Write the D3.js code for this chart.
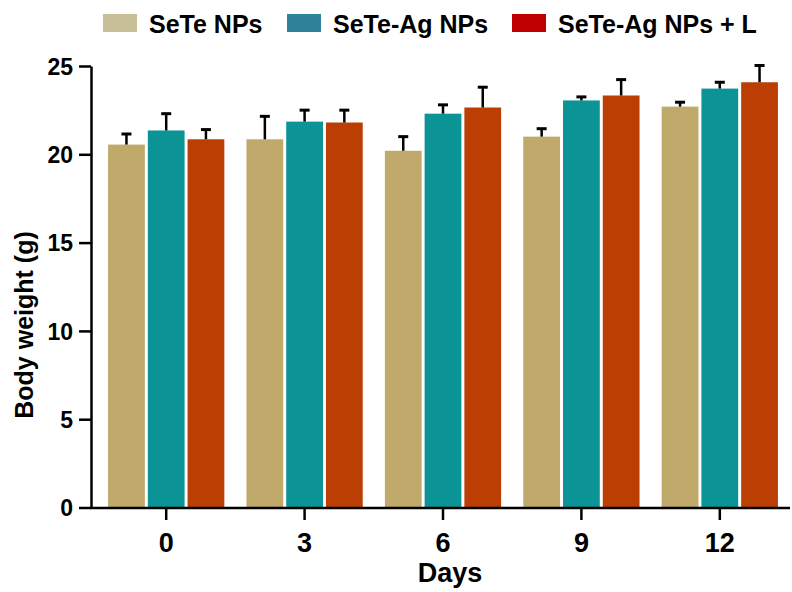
<!DOCTYPE html>
<html>
<head>
<meta charset="utf-8">
<style>
body { margin: 0; background: #fff; }
svg text { font-family: "Liberation Sans", Arial, sans-serif; font-weight: bold; fill: #000; }
</style>
</head>
<body>
<svg width="792" height="592"></svg>
<script src="https://cdn.jsdelivr.net/npm/d3@7"></script>
<script>

// data
var days = ["0", "3", "6", "9", "12"];
var seriesNames = ["SeTe NPs", "SeTe-Ag NPs", "SeTe-Ag NPs + L"];
var seteMean   = [20.55, 20.85, 20.2, 21.0, 22.7];
var seteErr    = [0.6, 1.3, 0.8, 0.45, 0.25];
var seteAgMean = [21.35, 21.85, 22.3, 23.05, 23.72];
var seteAgErr  = [0.95, 0.65, 0.5, 0.2, 0.36];
var seteAgLMean = [20.85, 21.8, 22.65, 23.33, 24.08];
var seteAgLErr  = [0.55, 0.7, 1.15, 0.9, 0.95];
var yTicks = [0, 5, 10, 15, 20, 25];

var barColors = ["#bfa96b", "#0b9396", "#bb3e03"];
var legendColors = ["#c8bf99", "#2e8399", "#c00000"];

var means = [seteMean, seteAgMean, seteAgLMean];
var errs = [seteErr, seteAgErr, seteAgLErr];

var svg = d3.select("svg");

var x0 = d3.scaleBand().domain(days).range([97, 789]).paddingInner(0.16).paddingOuter(0.08);
var x1 = d3.scaleBand().domain(seriesNames).range([0, x0.bandwidth()]).paddingInner(0.075);
var y = d3.scaleLinear().domain([0, 25]).range([507.5, 66]);

var rows = [];
days.forEach(function(d, i) {
  seriesNames.forEach(function(s, j) {
    rows.push({day: d, series: s, k: j, v: means[j][i], e: errs[j][i]});
  });
});

// bars
svg.append("g").selectAll("rect")
  .data(rows)
  .enter().append("rect")
    .attr("x", function(d) { return x0(d.day) + x1(d.series); })
    .attr("y", function(d) { return y(d.v); })
    .attr("width", x1.bandwidth())
    .attr("height", function(d) { return y(0) - y(d.v); })
    .attr("fill", function(d) { return barColors[d.k]; });

// error bars (upper only)
var eb = svg.append("g").attr("stroke", "#000").selectAll("g")
  .data(rows)
  .enter().append("g")
    .attr("transform", function(d) { return "translate(" + (x0(d.day) + x1(d.series) + x1.bandwidth() / 2) + ",0)"; });
eb.append("line")
    .attr("y1", function(d) { return y(d.v); })
    .attr("y2", function(d) { return y(d.v + d.e); })
    .attr("stroke-width", 2.5);
eb.append("line")
    .attr("x1", -5).attr("x2", 5)
    .attr("y1", function(d) { return y(d.v + d.e); })
    .attr("y2", function(d) { return y(d.v + d.e); })
    .attr("stroke-width", 3);

// y axis
var yAxis = svg.append("g")
    .attr("transform", "translate(91,0)")
    .call(d3.axisLeft(y).tickValues(yTicks).tickSize(12).tickPadding(6).tickSizeOuter(0));
yAxis.select(".domain").attr("stroke-width", 2.5);
yAxis.selectAll(".tick line").attr("stroke-width", 2.5);
yAxis.selectAll("text").style("font-size", "23px").attr("dy", "0.36em");

// x axis
var xAxis = svg.append("g")
    .attr("transform", "translate(0,508)")
    .call(d3.axisBottom(x0).tickSize(12).tickSizeOuter(0));
xAxis.select(".domain").attr("d", "M90,0H790").attr("stroke-width", 2.5);
xAxis.selectAll(".tick line").attr("stroke-width", 2.5);
xAxis.selectAll("text").style("font-size", "27px").attr("y", 44).attr("dy", null);

svg.append("text")
    .attr("x", 450).attr("y", 582)
    .attr("text-anchor", "middle")
    .style("font-size", "27px")
    .text("Days");

svg.append("text")
    .attr("transform", "translate(33,325) rotate(-90)")
    .attr("text-anchor", "middle")
    .style("font-size", "25px")
    .text("Body weight (g)");

// legend
var legX = [103, 287, 512];
var leg = svg.append("g").selectAll("g")
  .data(seriesNames)
  .enter().append("g")
    .attr("transform", function(d, i) { return "translate(" + legX[i] + ",14)"; });
leg.append("rect")
    .attr("width", 34).attr("height", 18)
    .attr("fill", function(d, i) { return legendColors[i]; });
leg.append("text")
    .attr("x", 46).attr("y", 18.5)
    .style("font-size", "25px")
    .text(function(d) { return d; });

</script>
</body>
</html>
